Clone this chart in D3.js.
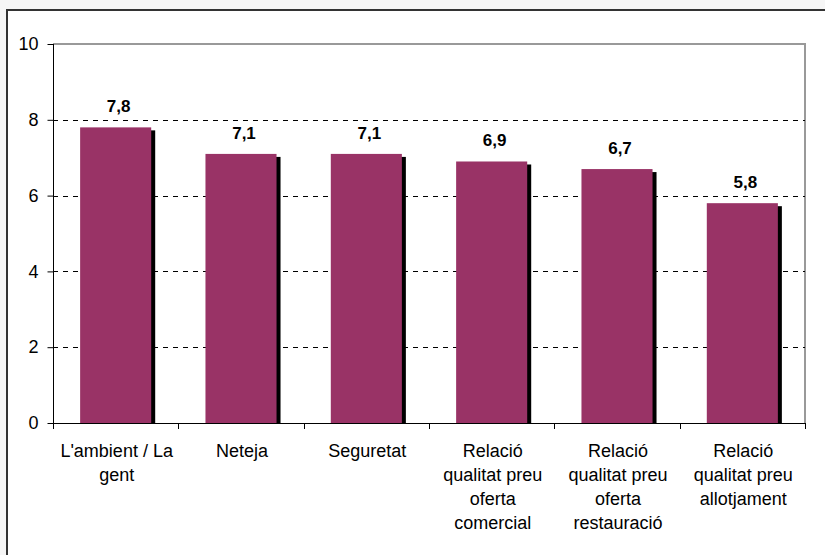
<!DOCTYPE html>
<html>
<head>
<meta charset="utf-8">
<script src="https://cdn.jsdelivr.net/npm/d3@7"></script>
<style>
  html, body { margin: 0; padding: 0; background: #f6f6f6; }
  svg { display: block; }
  text { font-family: Arial, "Liberation Sans", sans-serif; }
</style>
</head>
<body>
<svg id="chart" width="825" height="555"></svg>
<script>
const categories = [
  ["L'ambient / La", "gent"],
  ["Neteja"],
  ["Seguretat"],
  ["Relació", "qualitat preu", "oferta", "comercial"],
  ["Relació", "qualitat preu", "oferta", "restauració"],
  ["Relació", "qualitat preu", "allotjament"]
];
const values = [7.8, 7.1, 7.1, 6.9, 6.7, 5.8];
const valueLabels = ["7,8", "7,1", "7,1", "6,9", "6,7", "5,8"];
const yTicks = [0, 2, 4, 6, 8, 10];

const svg = d3.select("#chart");
const W = 825, H = 555;
const plot = { left: 53, right: 805, top: 44, bottom: 423 };

// outer frame
svg.append("rect").attr("x", 7).attr("y", 10).attr("width", W).attr("height", H)
  .attr("fill", "#fff").attr("stroke", "#333").attr("stroke-width", 2);

const idx = categories.map((d, i) => i);
const x = d3.scaleBand().domain(idx).range([plot.left, plot.right])
  .paddingInner(0.433).paddingOuter(0.2165);
const y = d3.scaleLinear().domain([0, 10]).range([plot.bottom, plot.top]);

// plot area border (top and right)
svg.append("path")
  .attr("d", `M${plot.left},${y(10)}H${plot.right}V${plot.bottom}`)
  .attr("fill", "none").attr("stroke", "#999").attr("stroke-width", 2);

// gridlines
svg.append("g").selectAll("line").data(yTicks.filter(t => t > 0 && t < 10)).join("line")
  .attr("x1", plot.left).attr("x2", plot.right)
  .attr("y1", d => Math.round(y(d)) + 0.5).attr("y2", d => Math.round(y(d)) + 0.5)
  .attr("stroke", "#000").attr("stroke-width", 1).attr("stroke-dasharray", "5,5");

// clip for shadows
svg.append("clipPath").attr("id", "plotclip").append("rect")
  .attr("x", plot.left).attr("y", plot.top).attr("width", plot.right - plot.left + 10)
  .attr("height", plot.bottom - plot.top);

// shadows
svg.append("g").attr("clip-path", "url(#plotclip)").selectAll("rect").data(values).join("rect")
  .attr("x", (d, i) => x(i) + 4).attr("y", d => y(d) + 3)
  .attr("width", x.bandwidth()).attr("height", d => plot.bottom - y(d))
  .attr("fill", "#000");

// bars
svg.append("g").selectAll("rect").data(values).join("rect")
  .attr("x", (d, i) => x(i)).attr("y", d => y(d))
  .attr("width", x.bandwidth()).attr("height", d => plot.bottom - y(d))
  .attr("fill", "#993366");

// value labels
svg.append("g").selectAll("text").data(values).join("text")
  .attr("x", (d, i) => x(i) + x.bandwidth() / 2 + 3)
  .attr("y", d => y(d) - 15)
  .attr("text-anchor", "middle")
  .attr("font-size", 17).attr("font-weight", "bold")
  .attr("fill", "#000")
  .text((d, i) => valueLabels[i]);

// y axis
const yAxis = d3.axisLeft(y).tickValues(yTicks).tickSize(6).tickPadding(9)
  .tickFormat(d3.format("d"));
const yg = svg.append("g").attr("transform", `translate(${plot.left + 0.5},0)`).call(yAxis);
yg.select(".domain").remove();
yg.selectAll("line").attr("stroke", "#000");
yg.selectAll("text").attr("font-size", 18).attr("font-family", "Arial, 'Liberation Sans', sans-serif")
  .attr("fill", "#000");
svg.append("line").attr("x1", plot.left + 0.5).attr("x2", plot.left + 0.5)
  .attr("y1", plot.top).attr("y2", plot.bottom + 6).attr("stroke", "#000");

// x axis line and category ticks
svg.append("line").attr("x1", plot.left).attr("x2", plot.right)
  .attr("y1", plot.bottom + 0.5).attr("y2", plot.bottom + 0.5).attr("stroke", "#000");
const step = x.step();
svg.append("g").selectAll("line").data(d3.range(1, categories.length + 1)).join("line")
  .attr("x1", d => Math.round(plot.left + d * step) + 0.5)
  .attr("x2", d => Math.round(plot.left + d * step) + 0.5)
  .attr("y1", plot.bottom).attr("y2", plot.bottom + 6).attr("stroke", "#000");

// category labels
const lg = svg.append("g").selectAll("text").data(categories).join("text")
  .attr("text-anchor", "middle").attr("font-size", 18)
  .attr("fill", "#000");
lg.each(function(lines, i) {
  const t = d3.select(this);
  lines.forEach((ln, j) => {
    t.append("tspan").attr("x", x(i) + x.bandwidth() / 2 + 1)
      .attr("y", 457 + j * 24).text(ln);
  });
});
</script>
</body>
</html>
